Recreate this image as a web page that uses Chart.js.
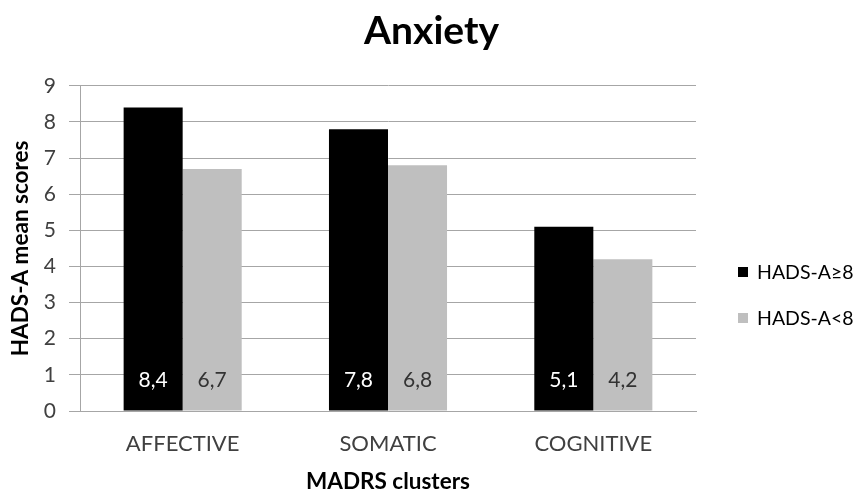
<!DOCTYPE html>
<html>
<head>
<meta charset="utf-8">
<script src="https://cdn.jsdelivr.net/npm/chart.js@4.4.1/dist/chart.umd.min.js"></script>
<style>
  html, body { margin: 0; padding: 0; background: #ffffff; }
  #wrap { width: 863px; height: 495px; position: relative; }
</style>
</head>
<body>
<div id="wrap"><canvas id="chart" width="863" height="495"></canvas></div>
<script>
// MADRS symptom clusters and HADS-A mean scores per anxiety group
const clusters = ['AFFECTIVE', 'SOMATIC', 'COGNITIVE'];
const seriesNames = ['HADS-A\u22658', 'HADS-A<8'];
const highAnxiety = [8.4, 7.8, 5.1];
const lowAnxiety = [6.7, 6.8, 4.2];
const yTicks = [0, 1, 2, 3, 4, 5, 6, 7, 8, 9];

const FONT = "Lato, 'Open Sans', 'Liberation Sans', sans-serif";
const TEXT = '#404040';
const GRID = '#a6a6a6';

// Writes each value (decimal comma) inside the foot of its bar
const valueLabels = {
  id: 'valueLabels',
  afterDatasetsDraw(chart) {
    const ctx = chart.ctx;
    ctx.save();
    ctx.font = '21px ' + FONT;
    ctx.textAlign = 'center';
    ctx.textBaseline = 'middle';
    chart.data.datasets.forEach((ds, i) => {
      const meta = chart.getDatasetMeta(i);
      meta.data.forEach((bar, j) => {
        ctx.fillStyle = ds.labelColor;
        ctx.fillText(ds.data[j].toFixed(1).replace('.', ','), bar.x, bar.base - 30);
      });
    });
    ctx.restore();
  }
};

// Series key to the right of the plot: small square swatch + name
const sideLegend = {
  id: 'sideLegend',
  afterDraw(chart) {
    const ctx = chart.ctx;
    const x = chart.chartArea.right + 42;
    const yStart = 272;
    const step = 46;
    ctx.save();
    ctx.font = '19.5px ' + FONT;
    ctx.textAlign = 'left';
    ctx.textBaseline = 'middle';
    chart.data.datasets.forEach((ds, i) => {
      const y = yStart + i * step;
      ctx.fillStyle = ds.backgroundColor;
      ctx.fillRect(x, y - 5, 10, 10);
      ctx.fillStyle = '#000000';
      ctx.fillText(ds.label, x + 19, y + 1);
    });
    ctx.restore();
  }
};

new Chart(document.getElementById('chart'), {
  type: 'bar',
  data: {
    labels: clusters,
    datasets: [
      { label: seriesNames[0], data: highAnxiety, backgroundColor: '#000000', labelColor: '#ffffff',
        categoryPercentage: 0.575, barPercentage: 1.0 },
      { label: seriesNames[1], data: lowAnxiety, backgroundColor: '#bfbfbf', labelColor: '#333333',
        categoryPercentage: 0.575, barPercentage: 1.0 }
    ]
  },
  options: {
    responsive: false,
    animation: false,
    layout: { padding: 0 },
    plugins: {
      title: {
        display: true,
        text: 'Anxiety',
        color: '#000000',
        font: { family: FONT, size: 39, weight: 'bold' },
        padding: { top: 8, bottom: 31 }
      },
      legend: { display: false },
      tooltip: { enabled: false }
    },
    scales: {
      x: {
        afterFit(scale) { scale.height = 84; },
        grid: { display: false, drawTicks: false },
        border: { color: GRID, width: 1 },
        ticks: { color: TEXT, font: { family: FONT, size: 22 }, padding: 20 },
        title: {
          display: true,
          text: 'MADRS clusters',
          color: '#000000',
          font: { family: FONT, size: 22.5, weight: 'bold' },
          padding: { top: 0, bottom: 0 }
        }
      },
      y: {
        min: 0,
        max: 9,
        afterFit(scale) { scale.width = 80; },
        afterBuildTicks(scale) { scale.ticks = yTicks.map(v => ({ value: v })); },
        grid: { color: GRID, lineWidth: 1, tickLength: 11 },
        border: { color: GRID, width: 1 },
        ticks: { color: TEXT, font: { family: FONT, size: 21 }, padding: 13 },
        title: {
          display: true,
          text: 'HADS-A mean scores',
          color: '#000000',
          font: { family: FONT, size: 22.5, weight: 'bold' },
          padding: { top: 7, bottom: 0 }
        }
      },
      // empty right-hand strip that holds the series key
      keySpace: {
        type: 'linear',
        position: 'right',
        min: 0,
        max: 9,
        afterFit(scale) { scale.width = 167; },
        grid: { display: false, drawOnChartArea: false, drawTicks: false },
        border: { display: false },
        ticks: { display: false }
      }
    }
  },
  plugins: [valueLabels, sideLegend]
});
</script>
</body>
</html>
